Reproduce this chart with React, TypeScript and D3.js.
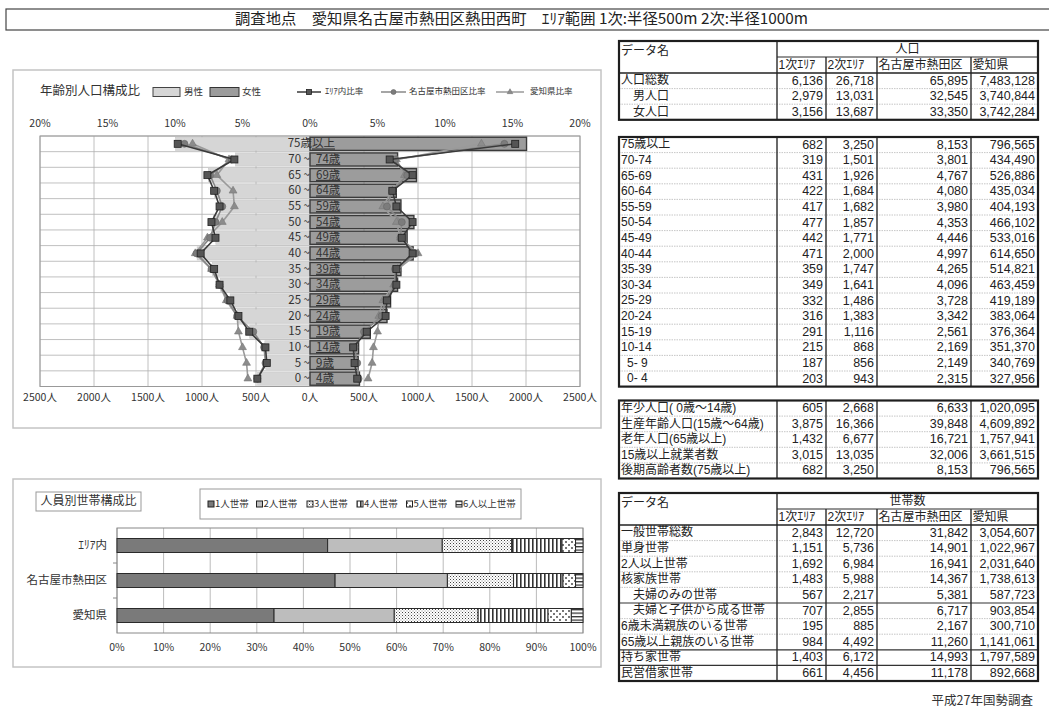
import React from 'react';
import * as d3 from 'd3';

const FONT = "'Noto Sans CJK JP', 'Noto Sans', sans-serif";
const LFONT = "'Liberation Sans', 'Noto Sans CJK JP', sans-serif";
const NFONT = "'Liberation Sans Narrow', 'Liberation Sans', sans-serif";

const titleText = '調査地点　愛知県名古屋市熱田区熱田西町　ｴﾘｱ範囲 1次:半径500m 2次:半径1000m';

// ---------- Pyramid data ----------
const ageKeys = ['75+', '70-74', '65-69', '60-64', '55-59', '50-54', '45-49', '40-44', '35-39', '30-34', '25-29', '20-24', '15-19', '10-14', '5-9', '0-4'];
const ageLabelLeft = ['75歳', '70 ~', '65 ~', '60 ~', '55 ~', '50 ~', '45 ~', '40 ~', '35 ~', '30 ~', '25 ~', '20 ~', '15 ~', '10 ~', '5 ~', '0 ~'];
const ageLabelRight = ['以上', '74歳', '69歳', '64歳', '59歳', '54歳', '49歳', '44歳', '39歳', '34歳', '29歳', '24歳', '19歳', '14歳', '9歳', '4歳'];

// bars: persons (2次エリア) by sex
const maleCount = [1245, 690, 940, 885, 840, 895, 872, 1045, 905, 830, 740, 670, 558, 418, 410, 485];
const femaleCount = [2005, 811, 986, 799, 842, 962, 899, 955, 842, 811, 746, 713, 558, 450, 446, 458];

// ratio lines (%)
const areaMale = [9.8, 5.6, 7.6, 7.1, 6.7, 7.3, 7.0, 8.1, 7.1, 6.7, 5.9, 5.3, 4.5, 3.3, 3.2, 3.9];
const nagoyaMale = [9.3, 5.8, 7.4, 6.9, 6.5, 7.0, 7.4, 8.4, 7.3, 6.7, 6.1, 5.4, 4.2, 3.4, 3.3, 3.9];
const aichiMale = [8.7, 6.0, 6.9, 5.7, 5.6, 6.5, 7.6, 8.5, 7.3, 6.7, 6.2, 5.4, 5.3, 5.0, 4.7, 4.6];
const areaFemale = [15.2, 5.9, 7.6, 6.1, 6.4, 7.6, 6.8, 7.6, 6.4, 6.4, 5.7, 5.6, 4.2, 3.2, 3.3, 3.5];
const nagoyaFemale = [14.4, 6.3, 7.2, 6.1, 5.7, 6.8, 6.7, 7.8, 6.3, 6.3, 5.6, 5.3, 4.0, 3.3, 3.5, 3.6];
const aichiFemale = [12.7, 6.4, 7.0, 6.1, 5.4, 6.4, 6.7, 8.0, 6.5, 6.2, 5.4, 5.1, 5.0, 4.7, 4.6, 4.3];

const pctTicks = [-20, -15, -10, -5, 0, 5, 10, 15, 20];
const personTicks = [-2500, -2000, -1500, -1000, -500, 0, 500, 1000, 1500, 2000, 2500];

// ---------- Household data ----------
const hhCats = ['ｴﾘｱ内', '名古屋市熱田区', '愛知県'];
const hhSeries = ['1人世帯', '2人世帯', '3人世帯', '4人世帯', '5人世帯', '6人以上世帯'];
const hhArea = [45.2, 24.6, 14.9, 10.8, 2.9, 1.6];
const hhNagoya = [46.8, 24.1, 14.2, 10.6, 2.7, 1.6];
const hhAichi = [33.7, 25.8, 18.0, 15.0, 5.0, 2.5];
const hhTicks = [0, 10, 20, 30, 40, 50, 60, 70, 80, 90, 100];

// ---------- Tables ----------
const colHeads = ['1次ｴﾘｱ', '2次ｴﾘｱ', '名古屋市熱田区', '愛知県'];
const popLabels = ['人口総数', '男人口', '女人口'];
const popIndent = [0, 1, 1];
const popValues = [
  [6136, 26718, 65895, 7483128],
  [2979, 13031, 32545, 3740844],
  [3156, 13687, 33350, 3742284],
];
const ageTableLabels = ['75歳以上', '70-74', '65-69', '60-64', '55-59', '50-54', '45-49', '40-44', '35-39', '30-34', '25-29', '20-24', '15-19', '10-14', '5- 9', '0- 4'];
const ageTableIndent = [0, 0, 0, 0, 0, 0, 0, 0, 0, 0, 0, 0, 0, 0, 0.5, 0.5];
const ageTableValues = [
  [682, 3250, 8153, 796565],
  [319, 1501, 3801, 434490],
  [431, 1926, 4767, 526886],
  [422, 1684, 4080, 435034],
  [417, 1682, 3980, 404193],
  [477, 1857, 4353, 466102],
  [442, 1771, 4446, 533016],
  [471, 2000, 4997, 614650],
  [359, 1747, 4265, 514821],
  [349, 1641, 4096, 463459],
  [332, 1486, 3728, 419189],
  [316, 1383, 3342, 383064],
  [291, 1116, 2561, 376364],
  [215, 868, 2169, 351370],
  [187, 856, 2149, 340769],
  [203, 943, 2315, 327956],
];
const groupLabels = ['年少人口( 0歳～14歳)', '生産年齢人口(15歳～64歳)', '老年人口(65歳以上)', '15歳以上就業者数', '後期高齢者数(75歳以上)'];
const groupIndent = [0, 0, 0, 0, 0];
const groupValues = [
  [605, 2668, 6633, 1020095],
  [3875, 16366, 39848, 4609892],
  [1432, 6677, 16721, 1757941],
  [3015, 13035, 32006, 3661515],
  [682, 3250, 8153, 796565],
];
const hhLabels = ['一般世帯総数', '単身世帯', '2人以上世帯', '核家族世帯', '夫婦のみの世帯', '夫婦と子供から成る世帯', '6歳未満親族のいる世帯', '65歳以上親族のいる世帯', '持ち家世帯', '民営借家世帯'];
const hhIndent = [0, 0, 0, 0, 1, 1, 0, 0, 0, 0];
const hhValues = [
  [2843, 12720, 31842, 3054607],
  [1151, 5736, 14901, 1022967],
  [1692, 6984, 16941, 2031640],
  [1483, 5988, 14367, 1738613],
  [567, 2217, 5381, 587723],
  [707, 2855, 6717, 903854],
  [195, 885, 2167, 300710],
  [984, 4492, 11260, 1141061],
  [1403, 6172, 14993, 1797589],
  [661, 4456, 11178, 892668],
];
const sourceText = '平成27年国勢調査';

const fmt = d3.format(',');
const colX = [619, 777, 826, 877, 971, 1038];
const ROW_H = 15.6;

function DataTable(props: any) {
  const { top, title, labels, indents, values, solid = [] } = props;
  const headH = title ? 32 : 0;
  const dataTop = top + headH;
  const bottom = dataTop + labels.length * ROW_H;
  const fs = 12;
  return (
    <g fontFamily={LFONT}>
      <rect x={colX[0]} y={top} width={colX[5] - colX[0]} height={bottom - top} fill="#fff" />
      {labels.map((_: string, i: number) =>
        i > 0 ? (
          <line key={'r' + i} x1={colX[0]} x2={colX[5]} y1={dataTop + i * ROW_H} y2={dataTop + i * ROW_H}
            stroke={solid.includes(i) ? '#333' : '#b8b8b8'} strokeWidth={solid.includes(i) ? 1.2 : 0.8}
            strokeDasharray={solid.includes(i) ? undefined : '1.5 1'} />
        ) : null
      )}
      {colX.slice(1, 5).map((x, i) => (
        <line key={'c' + i} x1={x} x2={x} y1={title && i > 0 ? top + 16 : top} y2={bottom} stroke="#2a2a2a" strokeWidth={1.4} />
      ))}
      {title && (
        <g>
          <line x1={colX[1]} x2={colX[5]} y1={top + 16} y2={top + 16} stroke="#2a2a2a" strokeWidth={1} />
          <line x1={colX[0]} x2={colX[5]} y1={dataTop} y2={dataTop} stroke="#222" strokeWidth={1.5} />
          <text x={colX[0] + 2} y={top + 11} fontSize={fs} dominantBaseline="middle" fill="#222">データ名</text>
          <text x={(colX[1] + colX[5]) / 2} y={top + 8.5} fontSize={fs} textAnchor="middle" dominantBaseline="middle" fill="#222">{title}</text>
          {colHeads.map((h, i) => (
            <text key={h} x={colX[i + 1] + 1.5} y={top + 24.5} fontSize={fs} dominantBaseline="middle" fill="#222">{h}</text>
          ))}
        </g>
      )}
      {labels.map((l: string, i: number) => (
        <g key={'t' + i}>
          <text x={colX[0] + 2 + indents[i] * 12} y={dataTop + i * ROW_H + ROW_H / 2 + 0.5} fontSize={fs} dominantBaseline="middle" fill="#222">{l}</text>
          {values[i].map((v: number, j: number) => (
            <text key={j} x={colX[j + 2] - 3} y={dataTop + i * ROW_H + ROW_H / 2 + 0.5} fontSize={12.5} fontFamily={NFONT} textAnchor="end" dominantBaseline="middle" fill="#222">{fmt(v)}</text>
          ))}
        </g>
      ))}
      <rect x={colX[0]} y={top} width={colX[5] - colX[0]} height={bottom - top} fill="none" stroke="#1e1e1e" strokeWidth={2.2} />
    </g>
  );
}

function Marker(props: any) {
  const { shape, x, y, fill, s = 7 } = props;
  if (shape === 'square') return <rect x={x - s / 2} y={y - s / 2} width={s} height={s} fill={fill} stroke="#222" strokeWidth={0.8} />;
  if (shape === 'circle') return <circle cx={x} cy={y} r={s / 2} fill={fill} stroke="#666" strokeWidth={0.6} />;
  const p = d3.symbol(d3.symbolTriangle, s * s * 0.55)();
  return <path d={p || ''} transform={`translate(${x},${y})`} fill={fill} stroke="#777" strokeWidth={0.6} />;
}

export default function App() {
  // ---------- pyramid scales ----------
  const xP = d3.scaleLinear().domain([-2500, 2500]).range([40, 580]);
  const xR = d3.scaleLinear().domain([-20, 20]).range([40, 580]);
  const yA = d3.scaleBand<string>().domain(ageKeys).range([136, 386.5]).paddingInner(0.16).paddingOuter(0.08);
  const step = yA.step();
  const bw = yA.bandwidth();
  const cy = (k: string) => (yA(k) as number) + bw / 2;
  const lineGen = d3.line<[number, number]>();

  const ratioSeries = [
    { name: '愛知県比率', male: aichiMale, female: aichiFemale, color: '#9a9a9a', fill: '#8c8c8c', shape: 'triangle' },
    { name: '名古屋市熱田区比率', male: nagoyaMale, female: nagoyaFemale, color: '#888', fill: '#7c7c7c', shape: 'circle' },
    { name: 'ｴﾘｱ内比率', male: areaMale, female: areaFemale, color: '#3a3a3a', fill: '#555', shape: 'square' },
  ];

  // ---------- household scales ----------
  const xH = d3.scaleLinear().domain([0, 100]).range([117, 583]);
  const yH = d3.scaleBand<string>().domain(hhCats).range([528, 633]).paddingInner(0.6).paddingOuter(0.3);
  const hhRows = hhCats.map((c, i) => {
    const v = [hhArea, hhNagoya, hhAichi][i];
    const o: any = { cat: c };
    hhSeries.forEach((s, j) => (o[s] = v[j]));
    return o;
  });
  const stacked = d3.stack<any>().keys(hhSeries)(hhRows);
  const hhFills = ['#7a7a7a', '#bdbdbd', 'url(#pDots)', 'url(#pVert)', 'url(#pBig)', 'url(#pHorz)'];
  const legendX = [208, 256.5, 307, 357, 406.5, 456];

  const legendLines = [
    { x1: 297, x2: 321, tx: 325, ...ratioSeries[2] },
    { x1: 381, x2: 406, tx: 409, ...ratioSeries[1] },
    { x1: 496, x2: 524, tx: 530, ...ratioSeries[0] },
  ];

  return (
    <svg width={1049} height={708} style={{ position: 'absolute', left: 0, top: 0, background: '#fff' }} fontFamily={FONT}>
      <defs>
        <pattern id="pDots" width="3" height="3" patternUnits="userSpaceOnUse">
          <rect width="3" height="3" fill="#fff" />
          <rect width="1" height="1" fill="#444" />
          <rect x="1.5" y="1.5" width="1" height="1" fill="#888" />
        </pattern>
        <pattern id="pVert" width="4" height="4" patternUnits="userSpaceOnUse">
          <rect width="4" height="4" fill="#fff" />
          <rect width="1.6" height="4" fill="#333" />
        </pattern>
        <pattern id="pBig" width="6" height="6" patternUnits="userSpaceOnUse">
          <rect width="6" height="6" fill="#fff" />
          <rect x="1" y="1" width="2" height="2" fill="#777" />
          <rect x="4" y="4" width="2" height="2" fill="#777" />
        </pattern>
        <pattern id="pHorz" width="4" height="3.5" patternUnits="userSpaceOnUse">
          <rect width="4" height="3.5" fill="#fff" />
          <rect width="4" height="1.3" fill="#333" />
        </pattern>
      </defs>
      <rect x={0} y={0} width={1049} height={708} fill="#fff" />

      {/* title */}
      <rect x={6} y={9} width={1050} height={21} fill="#fff" stroke="#444" strokeWidth={1.2} />
      <text x={235} y={20} fontSize={15} dominantBaseline="middle" textLength={573} lengthAdjust="spacingAndGlyphs" fill="#222">{titleText}</text>

      {/* ================= pyramid panel ================= */}
      <rect x={13} y={70} width={588} height={358} fill="#fff" stroke="#c4c4c4" strokeWidth={1.5} />
      <text x={40} y={92} fontSize={12.5} dominantBaseline="middle" fill="#333">年齢別人口構成比</text>
      <rect x={153} y={87.5} width={27} height={9} fill="#d6d6d6" stroke="#444" strokeWidth={1} />
      <text x={184} y={92} fontSize={9.5} dominantBaseline="middle" fill="#333">男性</text>
      <rect x={210} y={87.5} width={29} height={9} fill="#9c9c9c" stroke="#333" strokeWidth={1} />
      <text x={242} y={92} fontSize={9.5} dominantBaseline="middle" fill="#333">女性</text>
      {legendLines.map((l) => (
        <g key={l.name}>
          <line x1={l.x1} x2={l.x2} y1={92} y2={92} stroke={l.color} strokeWidth={1.5} />
          <Marker shape={l.shape} x={(l.x1 + l.x2) / 2} y={92} fill={l.fill} s={5} />
          <text x={l.tx} y={92} fontSize={8.5} dominantBaseline="middle" fill="#333">{l.name}</text>
        </g>
      ))}

      {/* grid */}
      {ageKeys.map((k, i) => (
        <line key={'hg' + i} x1={40} x2={580} y1={136 + i * step} y2={136 + i * step} stroke="#b0b0b0" strokeWidth={0.8} />
      ))}
      {personTicks.map((t) => (
        <line key={'vg' + t} x1={xP(t)} x2={xP(t)} y1={136} y2={386.5} stroke="#b0b0b0" strokeWidth={0.8} />
      ))}
      <rect x={40} y={136} width={540} height={250.5} fill="none" stroke="#999" strokeWidth={1} />

      {/* bars */}
      {ageKeys.map((k, i) => (
        <g key={'b' + k}>
          <rect x={xP(-maleCount[i])} y={yA(k)} width={xP(0) - xP(-maleCount[i])} height={bw} fill="#d6d6d6" stroke="#c8c8c8" strokeWidth={0.6} />
          <rect x={xP(0)} y={yA(k)} width={xP(femaleCount[i]) - xP(0)} height={bw} fill="#9c9c9c" stroke="#3a3a3a" strokeWidth={1.4} />
        </g>
      ))}

      {/* age labels */}
      {ageKeys.map((k, i) => (
        <g key={'al' + k} fontSize={11.5} fill="#333">
          <text x={i === 0 ? 312 : 310} y={cy(k) + 0.5} textAnchor="end" dominantBaseline="middle">{ageLabelLeft[i]}</text>
          <text x={i === 0 ? 312 : 316} y={cy(k) + 0.5} dominantBaseline="middle" textDecoration="underline">{ageLabelRight[i]}</text>
        </g>
      ))}

      {/* ratio lines */}
      {ratioSeries.map((s) => (
        <g key={s.name}>
          <path d={lineGen(ageKeys.map((k, i) => [xR(-s.male[i]), cy(k)] as [number, number])) || ''} fill="none" stroke={s.color} strokeWidth={1.6} />
          <path d={lineGen(ageKeys.map((k, i) => [xR(s.female[i]), cy(k)] as [number, number])) || ''} fill="none" stroke={s.color} strokeWidth={1.6} />
          {ageKeys.map((k, i) => (
            <g key={k}>
              <Marker shape={s.shape} x={xR(-s.male[i])} y={cy(k)} fill={s.fill} />
              <Marker shape={s.shape} x={xR(s.female[i])} y={cy(k)} fill={s.fill} />
            </g>
          ))}
        </g>
      ))}

      {/* axes labels */}
      {pctTicks.map((t) => (
        <text key={'pt' + t} x={xR(t)} y={124} fontSize={10.5} textAnchor="middle" dominantBaseline="middle" fill="#333">{Math.abs(t) + '%'}</text>
      ))}
      {personTicks.map((t) => (
        <text key={'pb' + t} x={xP(t)} y={398} fontSize={10.5} textAnchor="middle" dominantBaseline="middle" fill="#333">{Math.abs(t) + '人'}</text>
      ))}

      {/* ================= household panel ================= */}
      <rect x={13} y={479} width={588} height={188} fill="#fff" stroke="#c4c4c4" strokeWidth={1.5} />
      <rect x={36} y={492} width={105} height={19} fill="#fff" stroke="#999" strokeWidth={1} />
      <text x={88.5} y={502} fontSize={12} textAnchor="middle" dominantBaseline="middle" fill="#333">人員別世帯構成比</text>
      <rect x={200} y={489} width={321} height={30} fill="#fff" stroke="#999" strokeWidth={1} />
      {hhSeries.map((s, i) => (
        <g key={'lg' + s}>
          <rect x={legendX[i]} y={501} width={6} height={6} fill={hhFills[i]} stroke="#222" strokeWidth={1} />
          <text x={legendX[i] + 7} y={504.5} fontSize={9.5} dominantBaseline="middle" fill="#333">{s}</text>
        </g>
      ))}
      {hhTicks.map((t) => (
        <line key={'hv' + t} x1={xH(t)} x2={xH(t)} y1={528} y2={633} stroke="#aaa" strokeWidth={0.8} />
      ))}
      <rect x={117} y={528} width={466} height={105} fill="none" stroke="#888" strokeWidth={1} />
      {[1, 2].map((i) => (
        <line key={'yt' + i} x1={113} x2={117} y1={528 + i * yH.step()} y2={528 + i * yH.step()} stroke="#888" />
      ))}
      {stacked.map((ser, si) => (
        <g key={ser.key}>
          {ser.map((d: any) => (
            <rect key={d.data.cat} x={xH(d[0])} y={yH(d.data.cat)} width={xH(d[1]) - xH(d[0])} height={yH.bandwidth()}
              fill={hhFills[si]} stroke="#2a2a2a" strokeWidth={1} />
          ))}
        </g>
      ))}
      {hhCats.map((c) => (
        <text key={'hc' + c} x={107} y={(yH(c) as number) + yH.bandwidth() / 2} fontSize={11.5} textAnchor="end" dominantBaseline="middle" fill="#333">{c}</text>
      ))}
      {hhTicks.map((t) => (
        <text key={'hx' + t} x={xH(t)} y={648} fontSize={10.5} textAnchor="middle" dominantBaseline="middle" fill="#333">{t + '%'}</text>
      ))}

      {/* ================= tables ================= */}
      <DataTable top={41} title="人口" labels={popLabels} indents={popIndent} values={popValues} />
      <DataTable top={137} labels={ageTableLabels} indents={ageTableIndent} values={ageTableValues} />
      <DataTable top={400.5} labels={groupLabels} indents={groupIndent} values={groupValues} />
      <DataTable top={493} title="世帯数" labels={hhLabels} indents={hhIndent} values={hhValues} solid={[5, 8, 9]} />

      <text x={1033} y={705} fontSize={12.5} textAnchor="end" fill="#333">{sourceText}</text>
    </svg>
  );
}
